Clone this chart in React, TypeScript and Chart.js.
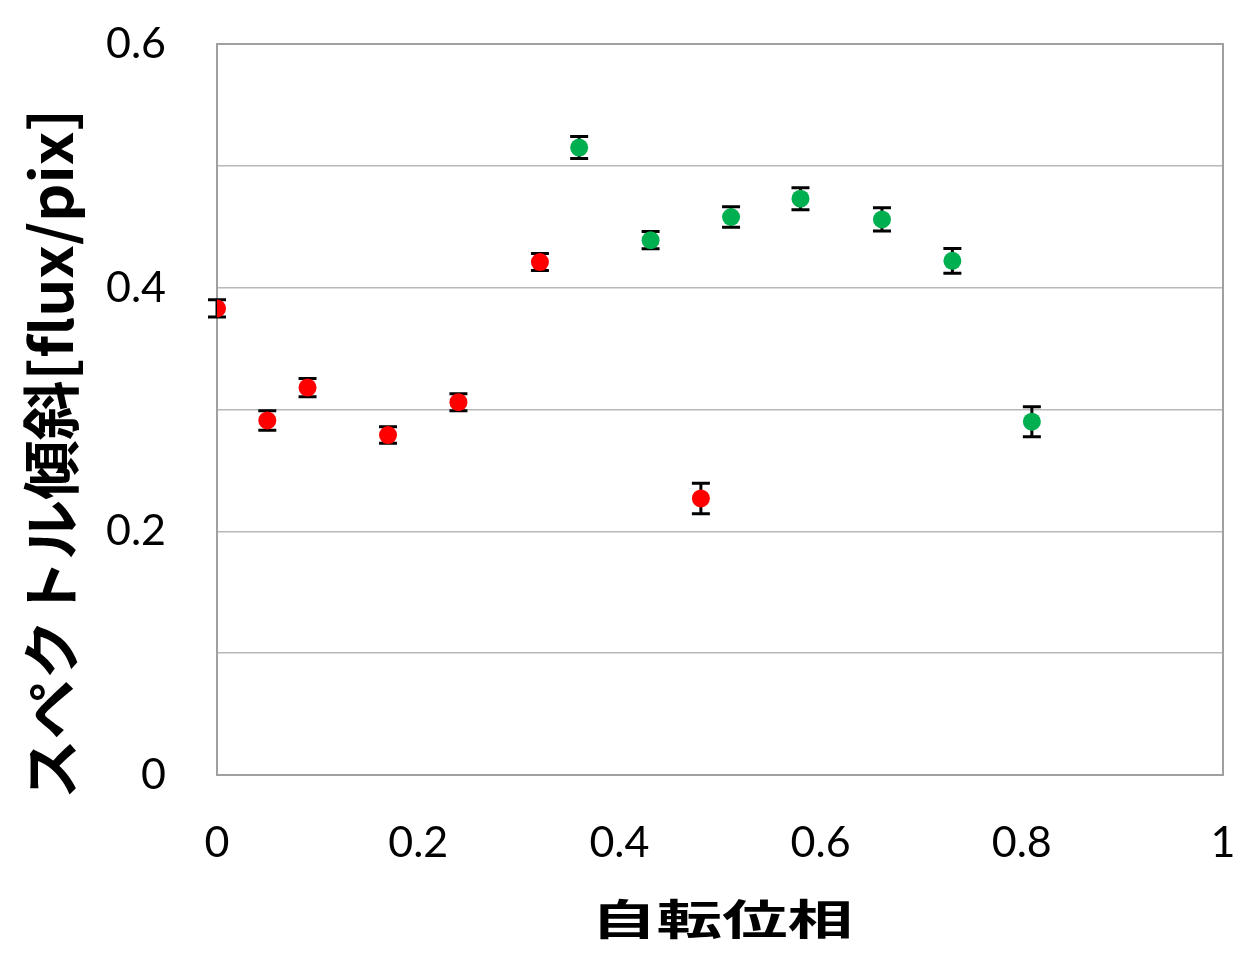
import React, { useEffect, useRef } from "react";
import { Chart, registerables } from "chart.js";

Chart.register(...registerables);

// Rotation phase (x) and spectral slope (y) with error bars
const redX = [0, 0.05, 0.09, 0.17, 0.24, 0.321, 0.481];
const redY = [0.383, 0.291, 0.318, 0.279, 0.306, 0.421, 0.227];
const redErr = [0.007, 0.008, 0.0075, 0.0068, 0.007, 0.007, 0.0125];

const greenX = [0.36, 0.431, 0.511, 0.58, 0.661, 0.731, 0.81];
const greenY = [0.515, 0.439, 0.458, 0.473, 0.456, 0.422, 0.29];
const greenErr = [0.009, 0.007, 0.0085, 0.009, 0.0095, 0.0102, 0.0123];

const xTitle = "自転位相";
const yTitle = "スペクトル傾斜[flux/pix]";

const errorBarPlugin = {
  id: "errorBars",
  beforeDatasetsDraw(chart: any) {
    const { ctx, chartArea, scales } = chart;
    // plot border
    ctx.save();
    ctx.strokeStyle = "#a0a0a0";
    ctx.lineWidth = 2;
    ctx.strokeRect(chartArea.left, chartArea.top, chartArea.right - chartArea.left, chartArea.bottom - chartArea.top);
    ctx.restore();

    const sets = [
      { xs: redX, ys: redY, es: redErr },
      { xs: greenX, ys: greenY, es: greenErr },
    ];
    ctx.save();
    ctx.strokeStyle = "#000";
    ctx.lineWidth = 3;
    sets.forEach((s) => {
      s.xs.forEach((xv, i) => {
        const px = scales.x.getPixelForValue(xv);
        const top = scales.y.getPixelForValue(s.ys[i] + s.es[i]);
        const bot = scales.y.getPixelForValue(s.ys[i] - s.es[i]);
        ctx.beginPath();
        ctx.moveTo(px, top);
        ctx.lineTo(px, bot);
        ctx.moveTo(px - 9, top);
        ctx.lineTo(px + 9, top);
        ctx.moveTo(px - 9, bot);
        ctx.lineTo(px + 9, bot);
        ctx.stroke();
      });
    });
    ctx.restore();
  },
};

const titlePlugin = {
  id: "customTitles",
  afterDraw(chart: any) {
    const { ctx } = chart;
    ctx.save();
    ctx.fillStyle = "#000";
    ctx.textAlign = "center";
    ctx.textBaseline = "middle";
    // x title
    ctx.font = "bold 42px 'Noto Sans CJK JP'";
    const wx = ctx.measureText(xTitle).width;
    ctx.save();
    ctx.translate(722 - 8, 919 - 8);
    ctx.scale(262 / wx, 1);
    ctx.fillText(xTitle, 0, 0);
    ctx.restore();
    // y title
    ctx.font = "bold 58px 'Noto Sans CJK JP'";
    const wy = ctx.measureText(yTitle).width;
    ctx.save();
    ctx.translate(51 - 8, 454 - 8);
    ctx.rotate(-Math.PI / 2);
    ctx.scale(690 / wy, 1);
    ctx.fillText(yTitle, 0, 0);
    ctx.restore();
    ctx.restore();
  },
};

export default function App() {
  const ref = useRef<HTMLCanvasElement>(null);

  useEffect(() => {
    if (!ref.current) return;
    const tickFont = { family: "Lato", size: 43 };
    const chart = new Chart(ref.current, {
      type: "scatter",
      data: {
        datasets: [
          {
            label: "red",
            data: redX.map((x, i) => ({ x, y: redY[i] })),
            backgroundColor: "#ff0000",
            borderWidth: 0,
            pointRadius: 9,
          },
          {
            label: "green",
            data: greenX.map((x, i) => ({ x, y: greenY[i] })),
            backgroundColor: "#00b050",
            borderWidth: 0,
            pointRadius: 9,
          },
        ],
      },
      options: {
        responsive: false,
        animation: false,
        layout: { padding: { left: 0, right: 12, top: 36, bottom: 0 } },
        plugins: { legend: { display: false }, tooltip: { enabled: false } },
        scales: {
          x: {
            type: "linear",
            min: 0,
            max: 1,
            afterFit(scale: any) {
              scale.height = 178;
              scale.paddingLeft = 0;
              scale.paddingRight = 0;
            },
            grid: { display: false, drawTicks: false },
            border: { display: false },
            ticks: {
              stepSize: 0.2,
              padding: 42,
              color: "#000",
              font: tickFont,
              maxRotation: 0,
              callback: (v: any) => String(Number(Number(v).toFixed(1))),
            },
          },
          y: {
            type: "linear",
            min: 0,
            max: 0.6,
            afterFit(scale: any) {
              scale.width = 209;
              scale.paddingTop = 0;
              scale.paddingBottom = 0;
            },
            grid: { color: "#b8b8b8", lineWidth: 1.5, drawTicks: false },
            border: { display: false },
            ticks: {
              stepSize: 0.1,
              padding: 51,
              color: "#000",
              font: tickFont,
              callback: (v: any) => {
                const n = Math.round(Number(v) * 10);
                return n % 2 === 0 ? String(n / 10) : "";
              },
            },
          },
        },
      },
      plugins: [errorBarPlugin, titlePlugin],
    });
    return () => chart.destroy();
  }, []);

  return (
    <div style={{ width: 1227, height: 945 }}>
      <canvas ref={ref} width={1227} height={945} />
    </div>
  );
}
